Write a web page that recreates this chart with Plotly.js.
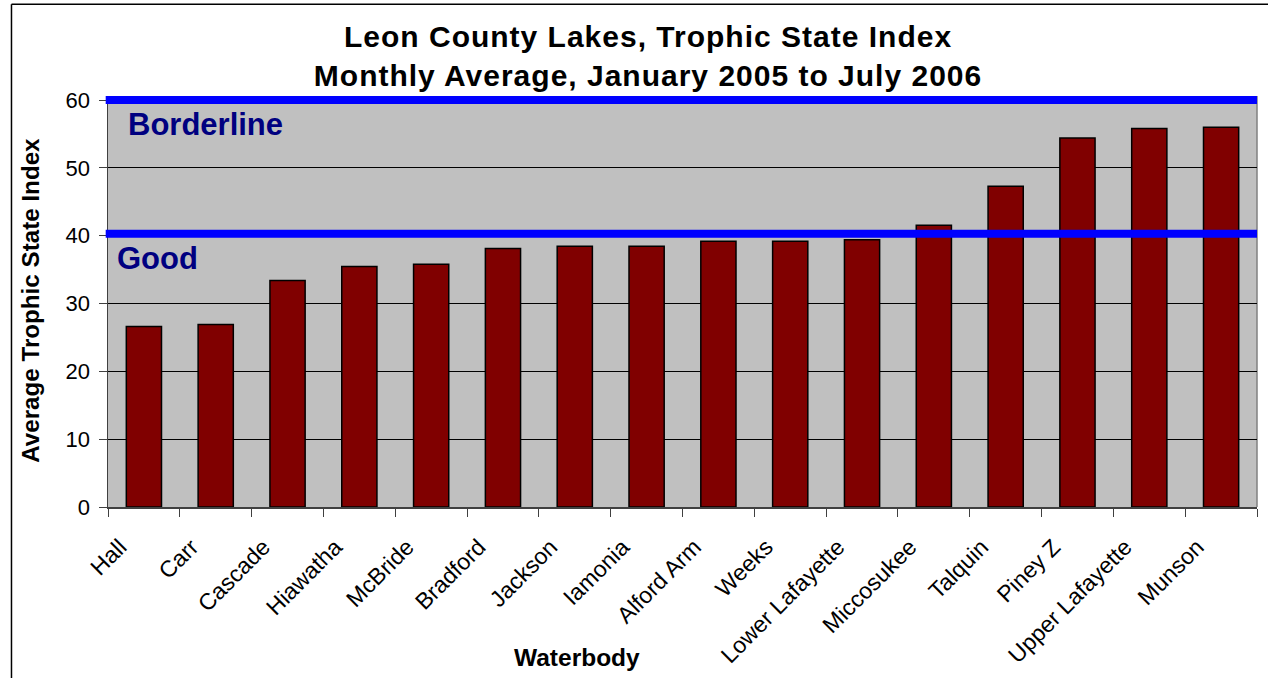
<!DOCTYPE html>
<html>
<head>
<meta charset="utf-8">
<script src="https://cdn.plot.ly/plotly-3.0.1.min.js"></script>
<style>
html,body{margin:0;padding:0;background:#fff;}
#chart{width:1268px;height:678px;}
#chart .gtitle{letter-spacing:1px;}
</style>
</head>
<body>
<div id="chart"></div>
<script>
const categories = ["Hall", "Carr", "Cascade", "Hiawatha", "McBride", "Bradford", "Jackson", "Iamonia", "Alford Arm", "Weeks", "Lower Lafayette", "Miccosukee", "Talquin", "Piney Z", "Upper Lafayette", "Munson"];
const tsiValues = [26.6, 26.9, 33.4, 35.45, 35.8, 38.1, 38.45, 38.45, 39.2, 39.2, 39.4, 41.55, 47.3, 54.4, 55.8, 56.0];
const yTicks = [0, 10, 20, 30, 40, 50, 60];
const thresholds = [40.3, 60];
const thresholdLabels = ["Good", "Borderline"];

const FONT = "Liberation Sans, Arial, sans-serif";

const trace = {
  type: "bar",
  x: categories,
  y: tsiValues,
  marker: { color: "#800000", line: { color: "#000000", width: 1.5 } },
  hoverinfo: "x+y"
};

const shapes = thresholds.map(v => ({
  type: "line", xref: "paper", yref: "y",
  x0: -0.002, x1: 1, y0: v, y1: v,
  line: { color: "#0000FF", width: 8 }, layer: "above"
}));
// right edge of plot area frame
shapes.push({ type: "line", xref: "paper", yref: "paper", x0: 1, x1: 1, y0: 0, y1: 1, line: { color: "#808080", width: 1.5 }, layer: "below" });
// outer chart border (top and left)
shapes.push({ type: "line", xref: "paper", yref: "paper", x0: -0.084, x1: 1.02, y0: 1.223, y1: 1.223, line: { color: "#000000", width: 1.5 } });
shapes.push({ type: "line", xref: "paper", yref: "paper", x0: -0.084, x1: -0.084, y0: -0.43, y1: 1.223, line: { color: "#000000", width: 1.5 } });

const layout = {
  width: 1268, height: 678,
  margin: { l: 108, r: 11, t: 96, b: 171 },
  paper_bgcolor: "#FFFFFF",
  plot_bgcolor: "#C0C0C0",
  showlegend: false,
  bargap: 0.51,
  font: { family: FONT, color: "#000000" },
  title: {
    text: "<b>Leon County Lakes, Trophic State Index<br>Monthly Average, January 2005 to July 2006</b>",
    font: { family: FONT, size: 30, color: "#000000" },
    xref: "paper", x: 0.47, xanchor: "center",
    yref: "container", y: 1 - 47 / 678, yanchor: "middle"
  },
  xaxis: {
    type: "category",
    tickson: "boundaries",
    ticks: "outside", ticklen: 8, tickcolor: "#404040", tickwidth: 1,
    tickangle: -45,
    ticklabelshift: -24,
    ticklabelstandoff: 16,
    tickfont: { family: FONT, size: 23, color: "#000000" },
    showline: true, linecolor: "#404040", linewidth: 1.5,
    showgrid: false, zeroline: false
  },
  yaxis: {
    range: [0, 60.6],
    tickvals: yTicks,
    ticks: "outside", ticklen: 8, tickcolor: "#404040", tickwidth: 1,
    ticklabelstandoff: 4,
    tickfont: { family: FONT, size: 22, color: "#000000" },
    showline: true, linecolor: "#404040", linewidth: 1.5,
    showgrid: true, gridcolor: "#000000", gridwidth: 1,
    zeroline: false
  },
  shapes: shapes,
  annotations: [
    { text: "<b>" + thresholdLabels[1] + "</b>", xref: "paper", yref: "y", x: 0.016, y: 56.4, xanchor: "left", yanchor: "middle", showarrow: false, font: { family: FONT, size: 31, color: "#000080" } },
    { text: "<b>" + thresholdLabels[0] + "</b>", xref: "paper", yref: "y", x: 0.006, y: 36.6, xanchor: "left", yanchor: "middle", showarrow: false, font: { family: FONT, size: 31, color: "#000080" } },
    { text: "<b>Average Trophic State Index</b>", xref: "paper", yref: "y", x: -0.067, y: 30.4, xanchor: "center", yanchor: "middle", textangle: -90, showarrow: false, font: { family: FONT, size: 24.2, color: "#000000" } },
    { text: "<b>Waterbody</b>", xref: "paper", yref: "paper", x: 0.408, y: -0.367, xanchor: "center", yanchor: "middle", showarrow: false, font: { family: FONT, size: 24.5, color: "#000000" } }
  ]
};

Plotly.newPlot("chart", [trace], layout, { displayModeBar: false, staticPlot: true });
</script>
</body>
</html>
